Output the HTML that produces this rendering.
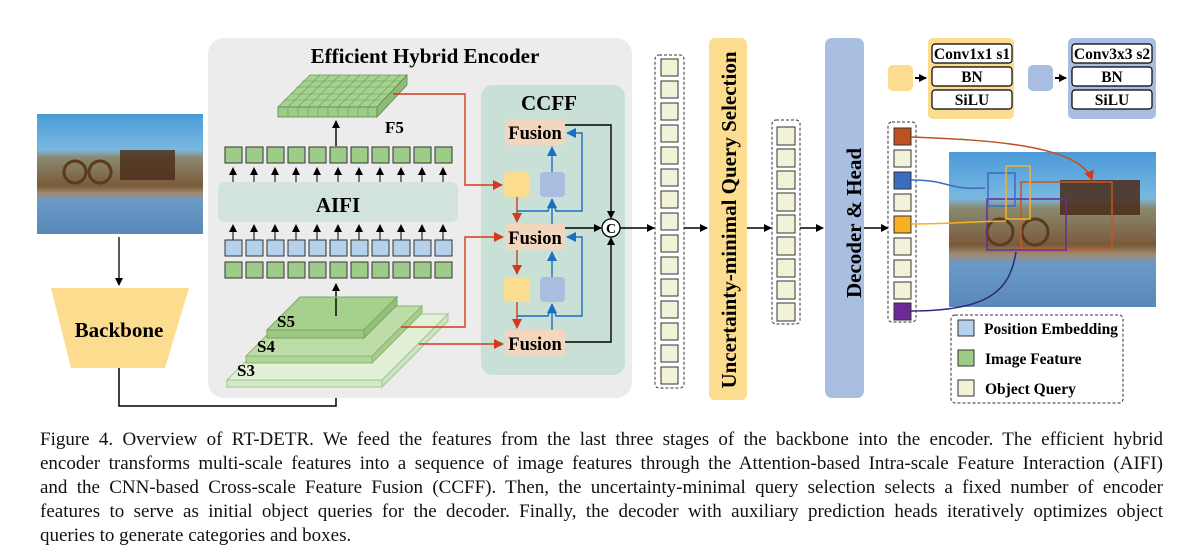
<!DOCTYPE html>
<html><head><meta charset="utf-8"><style>
body{margin:0;background:#fff;width:1201px;height:557px;overflow:hidden;position:relative;font-family:"Liberation Serif",serif}
.cap{position:absolute;left:40px;width:1123px;font-size:19px;line-height:24px;color:#111}
.cap div{text-align:justify;text-align-last:justify;white-space:nowrap}
.cap div.l{text-align-last:left}
svg{position:absolute;left:0;top:0}
svg text{font-family:"Liberation Serif",serif;font-weight:bold}
</style></head><body>
<svg width="1201" height="420" viewBox="0 0 1201 420">
<defs>
<marker id="ak" markerWidth="8" markerHeight="8" refX="7" refY="4" orient="auto" markerUnits="userSpaceOnUse"><path d="M0,0 L8,4 L0,8z" fill="#000"/></marker>
<marker id="ar" markerWidth="10" markerHeight="10" refX="9" refY="5" orient="auto" markerUnits="userSpaceOnUse"><path d="M0,0 L10,5 L0,10z" fill="#d23a1c"/></marker>
<marker id="ab" markerWidth="10" markerHeight="10" refX="9" refY="5" orient="auto" markerUnits="userSpaceOnUse"><path d="M0,0 L10,5 L0,10z" fill="#1c6fc0"/></marker>
<linearGradient id="ph" x1="0" y1="0" x2="0" y2="1">
<stop offset="0" stop-color="#4a9ad8"/><stop offset="0.3" stop-color="#7ab8e0"/><stop offset="0.36" stop-color="#8a8a70"/><stop offset="0.6" stop-color="#7a5a3a"/><stop offset="0.66" stop-color="#a08a70"/><stop offset="0.72" stop-color="#6a9ac8"/><stop offset="1" stop-color="#5a88b8"/></linearGradient>
</defs>
<rect x="37" y="114" width="166" height="120" fill="url(#ph)"/>
<rect x="120" y="150" width="55" height="30" fill="#4a2a18" opacity="0.8"/>
<circle cx="75" cy="172" r="11" fill="none" stroke="#5a3a20" stroke-width="3"/>
<circle cx="100" cy="172" r="11" fill="none" stroke="#5a3a20" stroke-width="3"/>
<line x1="119" y1="237" x2="119" y2="285" stroke="#000" stroke-width="1.3" marker-end="url(#ak)"/>
<polygon points="51,288 189,288 165,368 71,368" fill="#fcdc8e"/>
<text x="119" y="337" font-size="21" text-anchor="middle">Backbone</text>
<polyline points="119,368 119,406 336,406 336,390" fill="none" stroke="#000" stroke-width="1.5" marker-end="url(#ak)"/>
<rect x="208" y="38" width="424" height="360" rx="16" fill="#ececec"/>
<text x="425" y="63" font-size="21" text-anchor="middle">Efficient Hybrid Encoder</text>
<polygon points="278,107 377,107 407,75 310,75" fill="#a6d28f" stroke="#6a9a5a" stroke-width="0.8"/>
<rect x="278" y="107" width="99" height="10" fill="#9ccc88" stroke="#5a8a4a" stroke-width="0.8"/>
<polygon points="377,107 407,75 407,85 377,117" fill="#8cbc78" stroke="#5a8a4a" stroke-width="0.8"/>
<g stroke="#6a9a5a" stroke-width="0.6">
<line x1="288" y1="107" x2="288" y2="117"/><line x1="298" y1="107" x2="298" y2="117"/><line x1="308" y1="107" x2="308" y2="117"/><line x1="318" y1="107" x2="318" y2="117"/><line x1="328" y1="107" x2="328" y2="117"/><line x1="338" y1="107" x2="338" y2="117"/><line x1="348" y1="107" x2="348" y2="117"/><line x1="358" y1="107" x2="358" y2="117"/><line x1="368" y1="107" x2="368" y2="117"/>
<line x1="284" y1="100" x2="383" y2="100"/><line x1="290" y1="94" x2="389" y2="94"/><line x1="296" y1="87" x2="395" y2="87"/><line x1="302" y1="81" x2="401" y2="81"/>
<line x1="288" y1="107" x2="320" y2="75"/><line x1="298" y1="107" x2="330" y2="75"/><line x1="308" y1="107" x2="340" y2="75"/><line x1="318" y1="107" x2="350" y2="75"/><line x1="328" y1="107" x2="360" y2="75"/><line x1="338" y1="107" x2="370" y2="75"/><line x1="348" y1="107" x2="380" y2="75"/><line x1="358" y1="107" x2="390" y2="75"/><line x1="368" y1="107" x2="400" y2="75"/>
</g>
<text x="385" y="133" font-size="17">F5</text>
<line x1="336" y1="146" x2="336" y2="121" stroke="#000" stroke-width="1.4" marker-end="url(#ak)"/>
<g id="grow" fill="#9ccc88" stroke="#333" stroke-width="1">
<rect x="225" y="147" width="17" height="16"/><rect x="246" y="147" width="17" height="16"/><rect x="267" y="147" width="17" height="16"/><rect x="288" y="147" width="17" height="16"/><rect x="309" y="147" width="17" height="16"/><rect x="330" y="147" width="17" height="16"/><rect x="351" y="147" width="17" height="16"/><rect x="372" y="147" width="17" height="16"/><rect x="393" y="147" width="17" height="16"/><rect x="414" y="147" width="17" height="16"/><rect x="435" y="147" width="17" height="16"/>
</g>
<g stroke="#000" stroke-width="1">
<line x1="233" y1="182" x2="233" y2="168" marker-end="url(#ak)"/><line x1="254" y1="182" x2="254" y2="168" marker-end="url(#ak)"/><line x1="275" y1="182" x2="275" y2="168" marker-end="url(#ak)"/><line x1="296" y1="182" x2="296" y2="168" marker-end="url(#ak)"/><line x1="317" y1="182" x2="317" y2="168" marker-end="url(#ak)"/><line x1="338" y1="182" x2="338" y2="168" marker-end="url(#ak)"/><line x1="359" y1="182" x2="359" y2="168" marker-end="url(#ak)"/><line x1="380" y1="182" x2="380" y2="168" marker-end="url(#ak)"/><line x1="401" y1="182" x2="401" y2="168" marker-end="url(#ak)"/><line x1="422" y1="182" x2="422" y2="168" marker-end="url(#ak)"/><line x1="443" y1="182" x2="443" y2="168" marker-end="url(#ak)"/>
<line x1="233" y1="240" x2="233" y2="225" marker-end="url(#ak)"/><line x1="254" y1="240" x2="254" y2="225" marker-end="url(#ak)"/><line x1="275" y1="240" x2="275" y2="225" marker-end="url(#ak)"/><line x1="296" y1="240" x2="296" y2="225" marker-end="url(#ak)"/><line x1="317" y1="240" x2="317" y2="225" marker-end="url(#ak)"/><line x1="338" y1="240" x2="338" y2="225" marker-end="url(#ak)"/><line x1="359" y1="240" x2="359" y2="225" marker-end="url(#ak)"/><line x1="380" y1="240" x2="380" y2="225" marker-end="url(#ak)"/><line x1="401" y1="240" x2="401" y2="225" marker-end="url(#ak)"/><line x1="422" y1="240" x2="422" y2="225" marker-end="url(#ak)"/><line x1="443" y1="240" x2="443" y2="225" marker-end="url(#ak)"/>
</g>
<rect x="218" y="182" width="240" height="40" rx="7" fill="#d2e2dc"/>
<text x="338" y="212" font-size="21" text-anchor="middle">AIFI</text>
<g fill="#b4d0ea" stroke="#333" stroke-width="1">
<rect x="225" y="240" width="17" height="16"/><rect x="246" y="240" width="17" height="16"/><rect x="267" y="240" width="17" height="16"/><rect x="288" y="240" width="17" height="16"/><rect x="309" y="240" width="17" height="16"/><rect x="330" y="240" width="17" height="16"/><rect x="351" y="240" width="17" height="16"/><rect x="372" y="240" width="17" height="16"/><rect x="393" y="240" width="17" height="16"/><rect x="414" y="240" width="17" height="16"/><rect x="435" y="240" width="17" height="16"/>
</g>
<use href="#grow" y="115"/>
<line x1="336" y1="316" x2="336" y2="284" stroke="#000" stroke-width="1.4" marker-end="url(#ak)"/>
<polygon points="293,314 448,314 382,380 227,380" fill="#e3f0d8" stroke="#9cc88a"/>
<polygon points="227,380 382,380 382,387 227,387" fill="#d5e9c8" stroke="#9cc88a"/>
<polygon points="382,380 448,314 448,321 382,387" fill="#cfe4c0" stroke="#9cc88a"/>
<polygon points="296,306 422,306 372,356 246,356" fill="#bcdca8" stroke="#88b870"/>
<polygon points="246,356 372,356 372,363 246,363" fill="#b0d49a" stroke="#88b870"/>
<polygon points="372,356 422,306 422,313 372,363" fill="#a8cc92" stroke="#88b870"/>
<polygon points="300,297 397,297 364,330 267,330" fill="#a6d08e" stroke="#78a860"/>
<polygon points="267,330 364,330 364,338 267,338" fill="#9cc884" stroke="#78a860"/>
<polygon points="364,330 397,297 397,305 364,338" fill="#94c07c" stroke="#78a860"/>
<line x1="336" y1="316" x2="336" y2="298" stroke="#000" stroke-width="1.4"/>
<text x="277" y="327" font-size="17">S5</text>
<text x="257" y="352" font-size="17">S4</text>
<text x="237" y="376" font-size="17">S3</text>
<rect x="481" y="85" width="144" height="290" rx="12" fill="#c9e0d7"/>
<text x="549" y="110" font-size="21" text-anchor="middle">CCFF</text>
<g fill="#f3d6be"><rect x="505" y="119" width="60" height="26" rx="3"/><rect x="505" y="224" width="60" height="26" rx="3"/><rect x="505" y="330" width="60" height="26" rx="3"/></g>
<g font-size="18.5"><text x="535" y="139" text-anchor="middle">Fusion</text><text x="535" y="244" text-anchor="middle">Fusion</text><text x="535" y="350" text-anchor="middle">Fusion</text></g>
<g><rect x="504" y="172" width="26" height="25" rx="4" fill="#fcdc8e"/><rect x="540" y="172" width="25" height="25" rx="4" fill="#a9bde0"/>
<rect x="504" y="277" width="26" height="25" rx="4" fill="#fcdc8e"/><rect x="540" y="277" width="25" height="25" rx="4" fill="#a9bde0"/></g>
<g fill="none" stroke="#d23a1c" stroke-width="1.4">
<polyline points="393,94 465,94 465,185 502,185" marker-end="url(#ar)"/>
<polyline points="401,327 465,327 465,237 503,237" marker-end="url(#ar)"/>
<polyline points="419,344 503,344" marker-end="url(#ar)"/>
<line x1="517" y1="197" x2="517" y2="222" marker-end="url(#ar)"/>
<line x1="517" y1="250" x2="517" y2="274" marker-end="url(#ar)"/>
<line x1="517" y1="302" x2="517" y2="328" marker-end="url(#ar)"/>
</g>
<g fill="none" stroke="#1c6fc0" stroke-width="1.4">
<line x1="552" y1="224" x2="552" y2="199" marker-end="url(#ab)"/>
<line x1="552" y1="172" x2="552" y2="147" marker-end="url(#ab)"/>
<line x1="552" y1="330" x2="552" y2="304" marker-end="url(#ab)"/>
<line x1="552" y1="277" x2="552" y2="252" marker-end="url(#ab)"/>
<path d="M517,211 H548 A4,4 0 0 1 556,211 H582 V133 H567" marker-end="url(#ab)"/>
<path d="M517,316 H548 A4,4 0 0 1 556,316 H582 V237 H567" marker-end="url(#ab)"/>
</g>
<g fill="none" stroke="#000" stroke-width="1.4">
<polyline points="565,125 611,125 611,218" marker-end="url(#ak)"/>
<line x1="565" y1="228" x2="601" y2="228" marker-end="url(#ak)"/>
<polyline points="565,342 611,342 611,238" marker-end="url(#ak)"/>
<line x1="619" y1="228" x2="654" y2="228" marker-end="url(#ak)"/>
</g>
<circle cx="611" cy="228" r="9" fill="#fff" stroke="#000" stroke-width="1.3"/>
<text x="611" y="233" font-size="14" text-anchor="middle">C</text>
<rect x="655" y="55" width="29" height="333" rx="4" fill="#fff" stroke="#333" stroke-dasharray="3,2"/>
<g fill="#f1f2d8" stroke="#333" stroke-width="1">
<rect x="661" y="59" width="17" height="17"/><rect x="661" y="81" width="17" height="17"/><rect x="661" y="103" width="17" height="17"/><rect x="661" y="125" width="17" height="17"/><rect x="661" y="147" width="17" height="17"/><rect x="661" y="169" width="17" height="17"/><rect x="661" y="191" width="17" height="17"/><rect x="661" y="213" width="17" height="17"/><rect x="661" y="235" width="17" height="17"/><rect x="661" y="257" width="17" height="17"/><rect x="661" y="279" width="17" height="17"/><rect x="661" y="301" width="17" height="17"/><rect x="661" y="323" width="17" height="17"/><rect x="661" y="345" width="17" height="17"/><rect x="661" y="367" width="17" height="17"/>
</g>
<line x1="684" y1="228" x2="707" y2="228" stroke="#000" stroke-width="1.4" marker-end="url(#ak)"/>
<rect x="709" y="38" width="38" height="362" rx="6" fill="#fcdc8e"/>
<text transform="translate(736,220) rotate(-90)" font-size="21" text-anchor="middle">Uncertainty-minimal Query Selection</text>
<line x1="747" y1="228" x2="771" y2="228" stroke="#000" stroke-width="1.4" marker-end="url(#ak)"/>
<rect x="772" y="120" width="28" height="204" rx="4" fill="#fff" stroke="#333" stroke-dasharray="3,2"/>
<g fill="#f1f2d8" stroke="#333" stroke-width="1">
<rect x="777" y="127" width="18" height="18"/><rect x="777" y="149" width="18" height="18"/><rect x="777" y="171" width="18" height="18"/><rect x="777" y="193" width="18" height="18"/><rect x="777" y="215" width="18" height="18"/><rect x="777" y="237" width="18" height="18"/><rect x="777" y="259" width="18" height="18"/><rect x="777" y="281" width="18" height="18"/><rect x="777" y="303" width="18" height="18"/>
</g>
<line x1="800" y1="228" x2="823" y2="228" stroke="#000" stroke-width="1.4" marker-end="url(#ak)"/>
<rect x="825" y="38" width="39" height="360" rx="7" fill="#a9bfe2"/>
<text transform="translate(861,223) rotate(-90)" font-size="21" text-anchor="middle">Decoder &amp; Head</text>
<line x1="864" y1="228" x2="888" y2="228" stroke="#000" stroke-width="1.4" marker-end="url(#ak)"/>
<rect x="888" y="122" width="28" height="200" rx="4" fill="#fff" stroke="#333" stroke-dasharray="3,2"/>
<g stroke="#333" stroke-width="1">
<rect x="894" y="128" width="17" height="17" fill="#c0501f"/><rect x="894" y="150" width="17" height="17" fill="#f1f2d8"/><rect x="894" y="172" width="17" height="17" fill="#3a6cc0"/><rect x="894" y="194" width="17" height="17" fill="#f1f2d8"/><rect x="894" y="216" width="17" height="17" fill="#f5b121"/><rect x="894" y="238" width="17" height="17" fill="#f1f2d8"/><rect x="894" y="260" width="17" height="17" fill="#f1f2d8"/><rect x="894" y="282" width="17" height="17" fill="#f1f2d8"/><rect x="894" y="303" width="17" height="17" fill="#6a2a98"/>
</g>
<rect x="949" y="152" width="207" height="155" fill="url(#ph)"/>
<rect x="1060" y="180" width="80" height="35" fill="#4a2a18" opacity="0.85"/>
<circle cx="1000" cy="232" r="13" fill="none" stroke="#5a3a20" stroke-width="3"/>
<circle cx="1035" cy="232" r="13" fill="none" stroke="#5a3a20" stroke-width="3"/>
<g fill="none" stroke-width="1.5">
<rect x="1021" y="182" width="91" height="67" stroke="#c8561c"/>
<rect x="987" y="199" width="79" height="51" stroke="#6a2a98"/>
<rect x="988" y="173" width="27" height="33" stroke="#3a6cc0"/>
<rect x="1006" y="166" width="24" height="53" stroke="#f5b121"/>
<path d="M911,137 C990,140 1080,145 1092,180" stroke="#c0501f" marker-end="url(#ar)"/>
<path d="M911,180 C950,180 945,190 985,188" stroke="#3a6cc0"/>
<path d="M911,224 C950,224 960,222 1006,221" stroke="#f5b121"/>
<path d="M911,311 C990,311 1010,290 1016,252" stroke="#2a2a7a"/>
</g>
<rect x="951" y="315" width="172" height="88" rx="4" fill="#fff" stroke="#333" stroke-dasharray="3,2"/>
<rect x="958" y="320" width="16" height="16" fill="#b4d0ea" stroke="#333"/>
<rect x="958" y="350" width="16" height="16" fill="#9ccc88" stroke="#333"/>
<rect x="958" y="380" width="16" height="16" fill="#f1f2d8" stroke="#333"/>
<g font-size="15.5"><text x="984" y="334">Position Embedding</text><text x="985" y="364">Image Feature</text><text x="985" y="394">Object Query</text></g>
<rect x="888" y="65" width="25" height="26" rx="5" fill="#fcdc8e"/>
<line x1="915" y1="78" x2="926" y2="78" stroke="#000" stroke-width="2" marker-end="url(#ak)"/>
<rect x="928" y="38" width="86" height="81" rx="5" fill="#fcdc8e"/>
<rect x="1028" y="65" width="25" height="26" rx="5" fill="#a9bde0"/>
<line x1="1055" y1="78" x2="1066" y2="78" stroke="#000" stroke-width="2" marker-end="url(#ak)"/>
<rect x="1068" y="38" width="88" height="81" rx="5" fill="#a9bde0"/>
<g fill="#fff" stroke="#000" stroke-width="1.2">
<rect x="932" y="44" width="80" height="19" rx="3"/><rect x="932" y="67" width="80" height="19" rx="3"/><rect x="932" y="90" width="80" height="19" rx="3"/>
<rect x="1072" y="44" width="80" height="19" rx="3"/><rect x="1072" y="67" width="80" height="19" rx="3"/><rect x="1072" y="90" width="80" height="19" rx="3"/>
</g>
<g font-size="15.5" text-anchor="middle">
<text x="972" y="59">Conv1x1 s1</text><text x="972" y="82">BN</text><text x="972" y="105">SiLU</text>
<text x="1112" y="59">Conv3x3 s2</text><text x="1112" y="82">BN</text><text x="1112" y="105">SiLU</text>
</g>
</svg>
<div class="cap" style="top:428px">
<div>Figure 4. Overview of RT-DETR. We feed the features from the last three stages of the backbone into the encoder. The efficient hybrid</div>
<div>encoder transforms multi-scale features into a sequence of image features through the Attention-based Intra-scale Feature Interaction (AIFI)</div>
<div>and the CNN-based Cross-scale Feature Fusion (CCFF). Then, the uncertainty-minimal query selection selects a fixed number of encoder</div>
<div>features to serve as initial object queries for the decoder. Finally, the decoder with auxiliary prediction heads iteratively optimizes object</div>
<div class="l">queries to generate categories and boxes.</div>
</div>
</body></html>
